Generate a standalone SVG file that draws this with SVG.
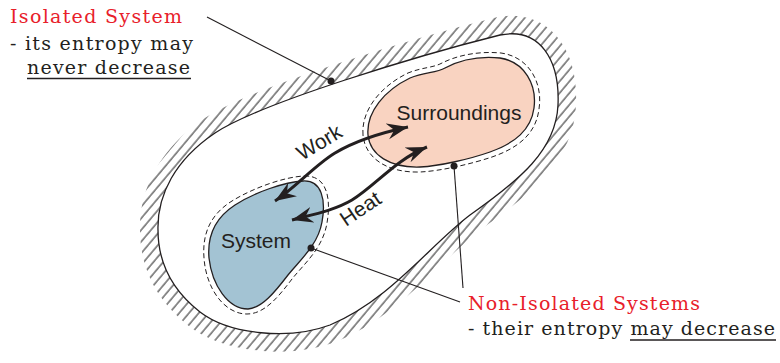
<svg xmlns="http://www.w3.org/2000/svg" width="780" height="363" viewBox="0 0 780 363">
  <style>
    .outline { fill: none; stroke: #231f20; stroke-width: 1.3; }
    .dash { fill: none; stroke: #231f20; stroke-width: 1; stroke-dasharray: 5 3; }
    .flow { fill: none; stroke: #231f20; stroke-width: 3; marker-start: url(#head); marker-end: url(#head); }
    .leader { fill: none; stroke: #231f20; stroke-width: 1.1; }
    .dot { fill: #231f20; }
    .label { font-family: "Liberation Sans", Arial, sans-serif; font-size: 21px; fill: #231f20; }
    .note { font-family: "DejaVu Serif", "Liberation Serif", serif; font-size: 19px; fill: #231f20; }
    .red { fill: #e8202a; }
    .ul { stroke: #231f20; stroke-width: 1.5; }
  </style>
  <defs>
    <path id="boundary" d="M 158,230 C 157,195 175,160 215,133 C 260,103 420,55 500,35 C 540,27 560,60 558,105 C 556,150 520,180 470,215 C 430,245 390,300 330,325 C 290,340 230,335 200,312 C 172,290 158,262 158,230 Z"/>
    <pattern id="hatch" patternUnits="userSpaceOnUse" width="7.5" height="10" patternTransform="rotate(40)">
      <line x1="1" y1="0" x2="1" y2="10" stroke="#333" stroke-width="1.1"/>
    </pattern>
    <mask id="band">
      <use href="#boundary" fill="none" stroke="#fff" stroke-width="36"/>
      <use href="#boundary" fill="#000"/>
    </mask>
    <marker id="head" viewBox="-21 -9 22 18" refX="0" refY="0" markerWidth="22" markerHeight="18" markerUnits="userSpaceOnUse" orient="auto-start-reverse">
      <path d="M 0,0 L -21,-8 L -14,0 L -21,8 Z" fill="#231f20"/>
    </marker>
  </defs>

  <!-- insulated wall: hatched band outside the boundary -->
  <g id="isolated-system">
    <rect x="0" y="0" width="780" height="363" fill="url(#hatch)" mask="url(#band)"/>
    <use href="#boundary" fill="#fff" class="outline"/>
  </g>

  <g id="surroundings">
    <path class="dash" d="M 363,135 C 361,110 381,86 408,73 C 423,67 433,68 442,63 C 458,55 479,51 501,53 C 530,57 543,84 539,109 C 536,134 518,148 492,157 C 471,164 441,171 420,172 C 387,173 365,158 363,135 Z"/>
    <path class="outline" style="fill:#f9d3c1" d="M 368,135 C 366,112 385,90 410,78 C 425,72 436,73 445,68 C 460,60 480,56 500,58 C 525,62 537,85 534,108 C 531,130 515,143 490,152 C 470,159 440,166 420,167 C 390,168 370,155 368,135 Z"/>
    <text class="label" x="459" y="120" text-anchor="middle">Surroundings</text>
  </g>

  <g id="system">
    <path class="dash" d="M 304,176 C 328,175 331,200 327,223 C 323,248 304,264 292,279 C 279,296 265,314 247,314 C 224,314 206,288 204,258 C 202,233 211,214 232,201 C 253,188 284,177 304,176 Z"/>
    <path class="outline" style="fill:#a3c3d3" d="M 303,181 C 322,180 326,200 322,222 C 318,245 300,260 288,275 C 275,292 262,308 248,309 C 228,309 212,285 209,258 C 207,235 215,218 235,205 C 255,192 285,182 303,181 Z"/>
    <text class="label" x="256" y="248" text-anchor="middle">System</text>
  </g>

  <g id="connectors">
    <path class="flow" d="M 275,201 C 295,188 315,165 335,153 C 355,141 380,133 408,127"/>
    <path class="flow" d="M 292,220 C 315,214 335,210 352,200 C 375,186 395,160 427,147"/>
    <text class="label" transform="translate(302,161) rotate(-31)">Work</text>
    <text class="label" transform="translate(346,227) rotate(-34)">Heat</text>
    <line class="leader" x1="207" y1="17" x2="331" y2="81"/>
    <circle class="dot" cx="331" cy="81" r="3.5"/>
    <line class="leader" x1="454" y1="166" x2="463" y2="288"/>
    <circle class="dot" cx="454" cy="166" r="3.5"/>
    <line class="leader" x1="311" y1="248" x2="460" y2="302"/>
    <circle class="dot" cx="311" cy="248" r="3.5"/>
  </g>

  <g id="isolated-note">
    <text class="note red" x="10" y="23" textLength="172">Isolated System</text>
    <text class="note" x="10" y="50" textLength="183">- its entropy may</text>
    <text class="note" x="27" y="74" textLength="163">never decrease</text>
    <line class="ul" x1="27" y1="78.5" x2="191" y2="78.5"/>
  </g>

  <g id="non-isolated-note">
    <text class="note red" x="468" y="310" textLength="232">Non-Isolated Systems</text>
    <text class="note" x="468" y="335" textLength="307">- their entropy may decrease</text>
    <line class="ul" x1="630" y1="340" x2="776" y2="340"/>
  </g>
</svg>
